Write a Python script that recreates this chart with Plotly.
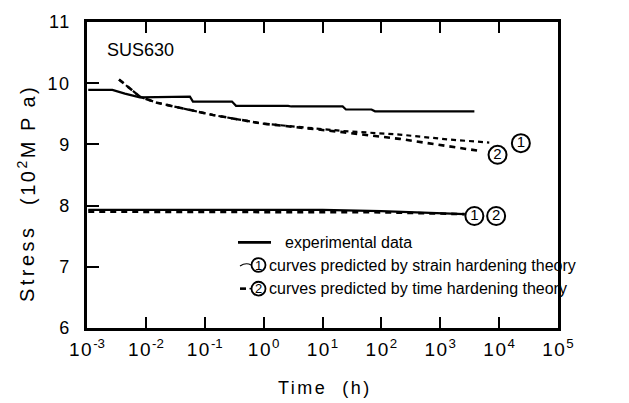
import plotly.graph_objects as go

# ---------------- data (stress in 10^2 MPa, time in h) ----------------
exp_hi_t = [0.00105, 0.0027, 0.0044, 0.0079, 0.056, 0.063, 0.29, 0.34, 2.6, 2.95, 22, 25, 68, 78, 3800]
exp_hi_s = [9.89, 9.89, 9.83, 9.77, 9.78, 9.70, 9.70, 9.63, 9.63, 9.62, 9.62, 9.57, 9.57, 9.54, 9.54]

strain_hi_t = [0.0035, 0.0079, 0.0155, 0.138, 0.95, 6.8, 22, 204, 1400, 6800]
strain_hi_s = [10.06, 9.78, 9.68, 9.48, 9.34, 9.26, 9.22, 9.16, 9.08, 9.03]
time_hi_t = [0.0035, 0.0079, 0.0155, 0.138, 0.95, 6.8, 22, 204, 1400, 4900]
time_hi_s = [10.06, 9.78, 9.68, 9.48, 9.34, 9.26, 9.20, 9.09, 8.97, 8.89]

exp_lo_t = [0.00105, 10, 100, 1000, 2600]
exp_lo_s = [7.93, 7.93, 7.91, 7.88, 7.86]
pred_lo_t = [0.00105, 10, 100, 1000, 2600]
pred_lo_s = [7.90, 7.90, 7.89, 7.87, 7.86]

label_t = [23400, 9400, 3800, 8900]
label_s = [9.02, 8.83, 7.83, 7.83]
label_txt = ["1", "2", "1", "2"]

x_tickvals = [1e-3, 1e-2, 1e-1, 1e0, 1e1, 1e2, 1e3, 1e4, 1e5]
x_exponents = ["-3", "-2", "-1", "0", "1", "2", "3", "4", "5"]
x_ticktext = ['<span style="letter-spacing:1.5px">10</span><sup>%s</sup>' % e for e in x_exponents]
y_tickvals = [6, 7, 8, 9, 10, 11]
y_ticktext = ['<span style="letter-spacing:1.5px">%d</span>' % v for v in y_tickvals]

FONT = "Liberation Sans, Arial, sans-serif"
W, H = 629, 403
L, R, T, B = 87, 558, 17, 328


def px(x):
    return (x - L) / (R - L)


def py(y):
    return (B - y) / (B - T)


fig = go.Figure()

# predicted curves (drawn first, under experimental)
fig.add_trace(go.Scatter(x=time_hi_t, y=time_hi_s, mode="lines",
                         line=dict(color="black", width=2.6, dash="6px,5px")))
fig.add_trace(go.Scatter(x=strain_hi_t, y=strain_hi_s, mode="lines",
                         line=dict(color="black", width=2.2, dash="5px,4px")))
fig.add_trace(go.Scatter(x=pred_lo_t, y=pred_lo_s, mode="lines",
                         line=dict(color="black", width=2.6, dash="6px,5px")))
# experimental
fig.add_trace(go.Scatter(x=exp_hi_t, y=exp_hi_s, mode="lines",
                         line=dict(color="black", width=2.2)))
fig.add_trace(go.Scatter(x=exp_lo_t, y=exp_lo_s, mode="lines",
                         line=dict(color="black", width=2.2)))
# circled labels
fig.add_trace(go.Scatter(x=label_t, y=label_s, mode="markers+text", text=label_txt,
                         textposition="middle center",
                         textfont=dict(family=FONT, size=15, color="black"),
                         marker=dict(symbol="circle-open", size=18, color="black",
                                     line=dict(width=2, color="black"))))

shapes = []
annotations = []


def hline(x0, x1, y, w):
    shapes.append(dict(type="line", xref="paper", yref="paper",
                       x0=px(x0), x1=px(x1), y0=py(y), y1=py(y),
                       line=dict(color="black", width=w)))


def circ(cx, cy, r, digit):
    shapes.append(dict(type="circle", xref="paper", yref="paper",
                       x0=px(cx - r), x1=px(cx + r), y0=py(cy + r), y1=py(cy - r),
                       line=dict(color="black", width=1.8)))
    annotations.append(dict(x=px(cx), y=py(cy), xref="paper", yref="paper",
                            text=digit, showarrow=False, xanchor="center", yanchor="middle",
                            font=dict(family=FONT, size=13, color="black")))


# legend
LEG_SIZE = 16
hline(238, 271, 241, 2.6)
annotations.append(dict(x=px(283), y=py(241), xref="paper", yref="paper",
                        text="experimental data", showarrow=False,
                        xanchor="left", yanchor="middle",
                        font=dict(family=FONT, size=LEG_SIZE, color="black")))
shapes.append(dict(type="path", xref="paper", yref="paper",
                   path="M%f,%f Q%f,%f %f,%f" % (px(240), py(265), px(246), py(261), px(251), py(264)),
                   line=dict(color="black", width=1.2)))
circ(258.5, 264, 7, "1")
annotations.append(dict(x=px(267), y=py(264), xref="paper", yref="paper",
                        text="curves predicted by strain hardening theory", showarrow=False,
                        xanchor="left", yanchor="middle",
                        font=dict(family=FONT, size=LEG_SIZE, color="black")))
hline(240, 246, 288, 2.6)
hline(249.5, 252, 288, 1.5)
circ(258.5, 288, 7, "2")
annotations.append(dict(x=px(267), y=py(288), xref="paper", yref="paper",
                        text="curves predicted by time hardening theory", showarrow=False,
                        xanchor="left", yanchor="middle",
                        font=dict(family=FONT, size=LEG_SIZE, color="black")))

# SUS630 label
annotations.append(dict(x=px(105), y=py(45), xref="paper", yref="paper",
                        text="SUS630", showarrow=False, xanchor="left", yanchor="middle",
                        font=dict(family=FONT, size=18, color="black")))

# axis titles
annotations.append(dict(x=px(27), y=py(262), xref="paper", yref="paper",
                        text='<span style="letter-spacing:3.5px">Stress</span>', textangle=-90,
                        showarrow=False, xanchor="center", yanchor="middle",
                        font=dict(family=FONT, size=20, color="black")))
annotations.append(dict(x=px(27), y=py(142), xref="paper", yref="paper",
                        text='<span style="letter-spacing:2.5px">(10<sup>2</sup>M P a)</span>', textangle=-90,
                        showarrow=False, xanchor="center", yanchor="middle",
                        font=dict(family=FONT, size=20, color="black")))
annotations.append(dict(x=px(325), y=py(389), xref="paper", yref="paper",
                        text='<span style="letter-spacing:2.5px">Time  (h)</span>',
                        showarrow=False, xanchor="center", yanchor="middle",
                        font=dict(family=FONT, size=18, color="black")))

fig.update_layout(
    width=W, height=H,
    margin=dict(l=L, r=W - R, t=T, b=H - B, pad=0),
    paper_bgcolor="white", plot_bgcolor="white",
    showlegend=False,
    font=dict(family=FONT, size=18, color="black"),
    shapes=shapes, annotations=annotations,
    xaxis=dict(type="log", range=[-3, 5], tickvals=x_tickvals, ticktext=x_ticktext,
               showgrid=False, zeroline=False, showline=True, linecolor="black", linewidth=2.5,
               mirror="ticks", ticks="inside", ticklen=11, tickwidth=1.8, tickcolor="black",
               ticklabelstandoff=2,
               tickfont=dict(family=FONT, size=19, color="black")),
    yaxis=dict(range=[6, 11], tickvals=y_tickvals, ticktext=y_ticktext,
               showgrid=False, zeroline=False, showline=True, linecolor="black", linewidth=2.5,
               mirror=True, ticks="inside", ticklen=12, tickwidth=1.8, tickcolor="black",
               ticklabelstandoff=10,
               tickfont=dict(family=FONT, size=18, color="black")),
)

fig.write_html("out.html")
